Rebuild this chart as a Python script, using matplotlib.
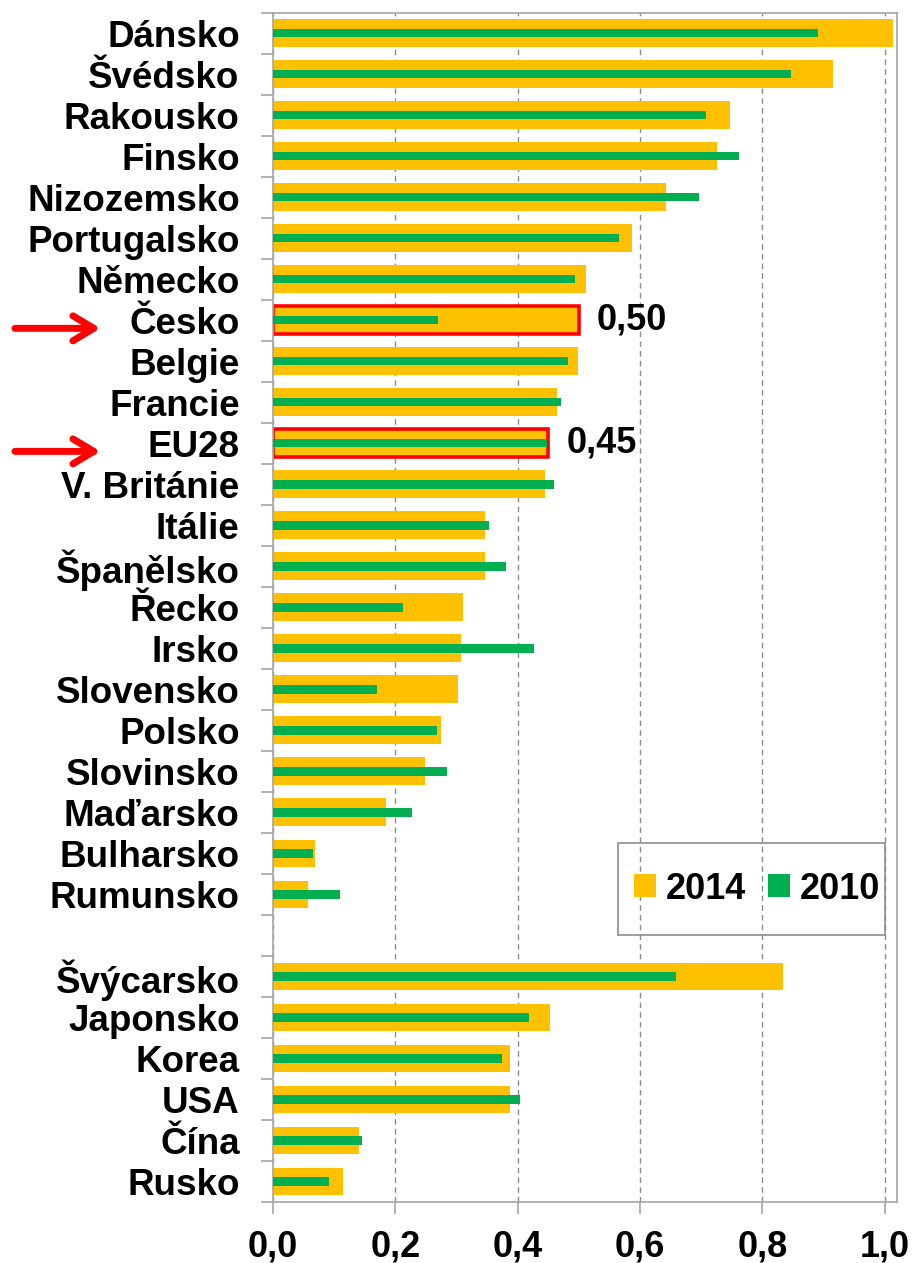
import matplotlib.pyplot as plt
from matplotlib.patches import Rectangle
from matplotlib.transforms import blended_transform_factory

# values
eu_countries = ["Dánsko", "Švédsko", "Rakousko", "Finsko", "Nizozemsko", "Portugalsko",
                "Německo", "Česko", "Belgie", "Francie", "EU28", "V. Británie", "Itálie",
                "Španělsko", "Řecko", "Irsko", "Slovensko", "Polsko", "Slovinsko",
                "Maďarsko", "Bulharsko", "Rumunsko"]
eu_2014 = [1.014, 0.916, 0.747, 0.725, 0.642, 0.587, 0.512, 0.50, 0.498, 0.465, 0.45,
           0.444, 0.346, 0.346, 0.311, 0.307, 0.303, 0.275, 0.249, 0.184, 0.069, 0.057]
eu_2010 = [0.891, 0.846, 0.707, 0.761, 0.696, 0.565, 0.494, 0.269, 0.482, 0.470, 0.448,
           0.459, 0.353, 0.381, 0.213, 0.427, 0.170, 0.268, 0.284, 0.228, 0.065, 0.109]

other_countries = ["Švýcarsko", "Japonsko", "Korea", "USA", "Čína", "Rusko"]
other_2014 = [0.834, 0.452, 0.387, 0.387, 0.141, 0.115]
other_2010 = [0.658, 0.419, 0.375, 0.404, 0.145, 0.092]

highlighted = ["Česko", "EU28"]
x_ticks = [0.0, 0.2, 0.4, 0.6, 0.8, 1.0]

YELLOW = "#FFC000"
GREEN = "#00B050"
RED = "#FF0000"
GRAY = "#A6A6A6"


def main():
    plt.rcParams["font.family"] = ["Liberation Sans", "DejaVu Sans"]
    plt.rcParams["font.weight"] = "bold"

    # one empty slot between the EU countries and the rest
    labels = eu_countries + other_countries
    v2014 = eu_2014 + other_2014
    v2010 = eu_2010 + other_2010
    ypos = list(range(len(eu_countries))) + [len(eu_countries) + 1 + i for i in range(len(other_countries))]
    n_slots = len(eu_countries) + 1 + len(other_countries)

    fig = plt.figure(figsize=(9.17, 12.63), dpi=100)
    ax = fig.add_axes([0.2977, 0.0483, 0.6805, 0.9418])

    bars14 = ax.barh(ypos, v2014, height=0.675, color=YELLOW, label="2014", zorder=2)
    ax.barh(ypos, v2010, height=0.21, color=GREEN, label="2010", zorder=3)

    for name, bar, val, y in zip(labels, bars14, v2014, ypos):
        if name in highlighted:
            bar.set_edgecolor(RED)
            bar.set_linewidth(2.6)
            ax.annotate(f"{val:.2f}".replace(".", ","), xy=(val, y), xytext=(13, 0),
                        textcoords="offset points", va="center", ha="left",
                        fontsize=26, fontweight="bold")

    # red arrows pointing at the highlighted rows
    trans = blended_transform_factory(ax.transAxes, ax.transData)
    for name, y in zip(labels, ypos):
        if name in highlighted:
            ax.annotate("", xy=(-0.272, y + 0.2), xytext=(-0.418, y + 0.2),
                        xycoords=trans, textcoords=trans, annotation_clip=False,
                        arrowprops=dict(arrowstyle="->,head_length=1.5,head_width=0.9",
                                        color=RED, lw=5))

    ax.set_xlim(0, 1.02)
    ax.set_ylim(n_slots - 0.5, -0.5)

    ax.set_xticks(x_ticks)
    ax.set_xticklabels([f"{t:.1f}".replace(".", ",") for t in x_ticks])
    ax.set_yticks(ypos)
    ax.set_yticklabels(labels)
    ax.set_yticks([i - 0.5 for i in range(n_slots + 1)], minor=True)

    ax.tick_params(axis="y", which="major", length=0, pad=24, labelsize=26.5)
    ax.tick_params(axis="y", which="minor", length=8.5, width=1.2, color=GRAY)
    ax.tick_params(axis="x", which="major", length=8.5, width=1.2, color=GRAY,
                   pad=11, labelsize=26)

    ax.set_axisbelow(True)
    ax.grid(axis="x", color="#8C8C8C", linestyle=(0, (4, 3)), linewidth=1)
    for sp in ax.spines.values():
        sp.set_color(GRAY)
        sp.set_linewidth(1.2)

    # legend without its own frame; the box is drawn separately (wide padding like Excel)
    ax.legend(loc="center", bbox_to_anchor=(0.776, 0.263), ncol=2,
              fontsize=26, frameon=False, borderaxespad=0, borderpad=0,
              handlelength=0.6, handleheight=0.6, handletextpad=0.28,
              columnspacing=0.6)
    ax.add_patch(Rectangle((0.553, 0.2245), 0.428, 0.0775, transform=ax.transAxes,
                           fill=False, edgecolor="#8C8C8C", linewidth=1.2,
                           zorder=5, clip_on=False))

    fig.savefig("out.png", dpi=100)


if __name__ == "__main__":
    main()
